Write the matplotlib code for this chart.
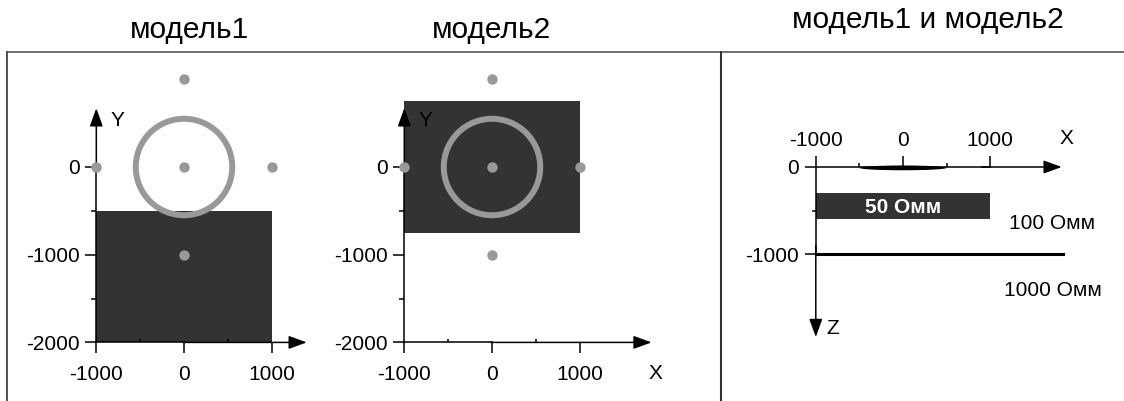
import matplotlib
matplotlib.use("Agg")
import matplotlib.pyplot as plt
from matplotlib.patches import Rectangle, Circle, Ellipse
from matplotlib.lines import Line2D
from matplotlib.ticker import FixedLocator

plt.rcParams['font.family'] = ['Liberation Sans', 'DejaVu Sans']
plt.rcParams['axes.unicode_minus'] = False

# electrode positions (plan view, m)
electrode_x = [0, -1000, 0, 1000, 0]
electrode_y = [1000, 0, 0, 0, -1000]
ring_radius = 550

# conductive bodies (plan view)
model1_x = [-1000, 1000]
model1_y = [-2000, -500]
model2_x = [-1000, 1000]
model2_y = [-750, 750]

# section view
layer_x = [-1000, 1000]
layer_z = [-600, -300]
lens_x = [-500, 500]
interface_z = -1000
interface_x = [-1000, 1830]
labels_rho = ['50 Омм', '100 Омм', '1000 Омм']

plan_xticks = [-1000, 0, 1000]
plan_xminor = [-500, 500]
plan_yticks = [-2000, -1000, 0]
plan_yminor = [-1500, -500]
sect_xticks = [-1000, 0, 1000]
sect_xminor = [-500, 500]
sect_zticks = [-1000, 0]
sect_zminor = [-500]

titles = ['модель1', 'модель2', 'модель1 и модель2']

W, H = 1124, 401
fig = plt.figure(figsize=(W / 100, H / 100), dpi=100)

GRAY = '#999999'
DARK = '#333333'


def place(origin, scale, xlim, ylim):
    x0, y0 = origin
    left = x0 + xlim[0] * scale
    right = x0 + xlim[1] * scale
    top = y0 - ylim[1] * scale
    bottom = y0 - ylim[0] * scale
    ax = fig.add_axes([left / W, 1 - bottom / H, (right - left) / W, (bottom - top) / H])
    ax.set_xlim(xlim)
    ax.set_ylim(ylim)
    ax.patch.set_visible(False)
    return ax


def arrow(ax, start, end):
    ax.annotate('', xy=end, xytext=start,
                arrowprops=dict(arrowstyle='-|>,head_length=0.55,head_width=0.2',
                                mutation_scale=20, lw=1.1, color='black',
                                shrinkA=0, shrinkB=0), zorder=4)


def plan_panel(origin, body_x, body_y, x_end, show_xlabel):
    ax = place(origin, 0.0877, (-1250, 1950), (-2300, 1200))
    for s in ['top', 'right']:
        ax.spines[s].set_visible(False)
    ax.spines['left'].set_position(('data', -1000))
    ax.spines['bottom'].set_position(('data', -2000))
    ax.spines['left'].set_bounds(-2000, 0)
    ax.spines['bottom'].set_bounds(-1000, 0)
    for s in ['left', 'bottom']:
        ax.spines[s].set_linewidth(1.1)
    arrow(ax, (-1000, -10), (-1000, 670))
    arrow(ax, (-10, -2000), (x_end, -2000))

    ax.add_patch(Rectangle((body_x[0], body_y[0]), body_x[1] - body_x[0],
                           body_y[1] - body_y[0], color=DARK, lw=0, zorder=1))
    ax.add_patch(Circle((0, 0), ring_radius, fill=False, ec=GRAY, lw=4.3, zorder=5))
    ax.plot(electrode_x, electrode_y, 'o', color=GRAY, ms=7.5, mec='none', zorder=6)

    ax.xaxis.set_major_locator(FixedLocator(plan_xticks))
    ax.xaxis.set_minor_locator(FixedLocator(plan_xminor))
    ax.yaxis.set_major_locator(FixedLocator(plan_yticks))
    ax.yaxis.set_minor_locator(FixedLocator(plan_yminor))
    ax.tick_params(axis='both', which='major', length=8, width=1.1, labelsize=15)
    ax.tick_params(axis='x', which='major', pad=8)
    ax.tick_params(axis='y', which='major', pad=4)
    ax.tick_params(axis='x', which='minor', direction='in', length=2.5, width=1.1)
    ax.tick_params(axis='y', which='minor', direction='out', length=3.5, width=1.1)

    ax.text(-760, 535, 'Y', fontsize=15, ha='center', va='center', zorder=3)
    if show_xlabel:
        ax.text(1860, -2350, 'X', fontsize=15, ha='center', va='center')
    return ax


plan_panel((184, 167), model1_x, model1_y, 1400, False)
plan_panel((492, 167), model2_x, model2_y, 1820, True)

# section panel
ax = place((903, 167), 0.0872, (-1700, 2400), (-2250, 900))
for s in ['bottom', 'right']:
    ax.spines[s].set_visible(False)
ax.spines['left'].set_position(('data', -1000))
ax.spines['top'].set_position(('data', 0))
ax.spines['left'].set_bounds(-1000, 0)
ax.spines['top'].set_bounds(-1000, 1000)
for s in ['left', 'top']:
    ax.spines[s].set_linewidth(1.1)
ax.xaxis.tick_top()
arrow(ax, (900, 0), (1820, 0))
arrow(ax, (-1000, -900), (-1000, -1950))

ax.add_patch(Rectangle((layer_x[0], layer_z[0]), layer_x[1] - layer_x[0],
                       layer_z[1] - layer_z[0], color=DARK, lw=0, zorder=1))
ax.add_patch(Ellipse((0, -10), lens_x[1] - lens_x[0], 55, color='black', lw=0, zorder=3))
ax.plot(interface_x, [interface_z, interface_z], color='black', lw=2.2, zorder=3)

ax.xaxis.set_major_locator(FixedLocator(sect_xticks))
ax.xaxis.set_minor_locator(FixedLocator(sect_xminor))
ax.yaxis.set_major_locator(FixedLocator(sect_zticks))
ax.yaxis.set_minor_locator(FixedLocator(sect_zminor))
ax.tick_params(axis='both', which='major', length=8, width=1.1, labelsize=15, pad=4)
ax.tick_params(axis='both', which='minor', length=3, width=1.1)

ax.text(0, -460, labels_rho[0], color='white', fontsize=15, fontweight='bold',
        ha='center', va='center', zorder=4)
ax.text(1710, -645, labels_rho[1], fontsize=15, ha='center', va='center')
ax.text(1720, -1415, labels_rho[2], fontsize=15, ha='center', va='center')
ax.text(1880, 330, 'X', fontsize=15, ha='center', va='center')
ax.text(-800, -1850, 'Z', fontsize=15, ha='center', va='center')

# frame
def fline(x, y, color, lw):
    fig.add_artist(Line2D([p / W for p in x], [1 - p / H for p in y],
                          color=color, lw=lw, transform=fig.transFigure))

fline([7, W], [51.5, 51.5], '#666666', 1.3)
fline([7, 7], [51.5, H], '#444444', 1.3)
fline([720.5, 720.5], [51.5, H], '#333333', 1.5)

fig.text(190 / W, 1 - 30 / H, titles[0], fontsize=21.5, ha='center', va='center')
fig.text(492 / W, 1 - 30 / H, titles[1], fontsize=21.5, ha='center', va='center')
fig.text(928 / W, 1 - 20 / H, titles[2], fontsize=21.5, ha='center', va='center')

fig.savefig('out.png', dpi=100)
